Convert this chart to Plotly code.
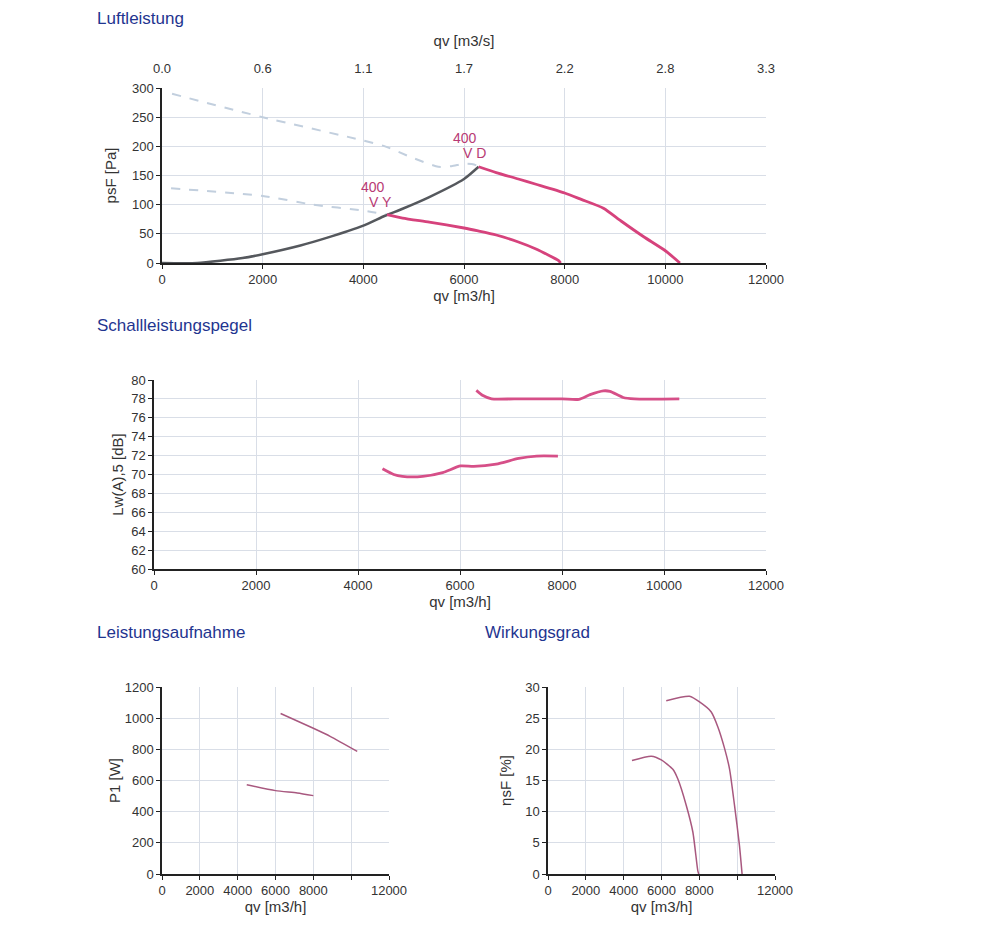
import plotly.graph_objects as go

# ---------------- data ----------------
# Luftleistung (qv [m3/h], psF [Pa])
sys_q = [0, 700, 1600, 2000, 2750, 3270, 4000, 4430, 4780, 5310, 6000, 6290]
sys_p = [0, 0, 8.5, 15, 30, 43, 64, 81, 93, 113, 144, 165]

vd_q = [6290, 6640, 7080, 7430, 8000, 8330, 8770, 9120, 9570, 10000, 10290]
vd_p = [165, 155, 144, 135, 120, 109, 94, 72, 45, 21, 0]

vy_q = [4470, 4780, 5310, 6000, 6280, 6640, 7080, 7430, 7880, 7920]
vy_p = [83, 77, 70, 60, 55, 48, 36, 24, 4, 0]

vd_ext_q = [200, 2000, 4000, 4430, 4960, 5490, 5750, 6000, 6200, 6290]
vd_ext_p = [290, 250, 210, 200, 181, 165, 166, 170, 169, 165]

vy_ext_q = [180, 2000, 3000, 4000, 4470]
vy_ext_p = [128, 115, 100, 90, 83]

# Schallleistungspegel (Lw(A),5 [dB])
lw_vd_q = [6320, 6450, 6620, 7060, 8000, 8330, 8550, 8810, 8940, 9200, 9420, 10300]
lw_vd_l = [78.9, 78.35, 78.0, 78.0, 78.0, 77.95, 78.45, 78.85, 78.8, 78.15, 78.0, 78.0]
lw_vy_q = [4480, 4700, 4870, 5270, 5660, 6010, 6270, 6710, 7150, 7500, 7920]
lw_vy_l = [70.6, 70.0, 69.8, 69.8, 70.2, 70.9, 70.85, 71.1, 71.7, 71.95, 71.95]

# Leistungsaufnahme (P1 [W])
p1_vd_q = [6270, 8000, 8910, 10320]
p1_vd_p = [1030, 935, 882, 787]
p1_vy_q = [4480, 6000, 7150, 8000]
p1_vy_p = [573, 535, 520, 503]

# Wirkungsgrad (etasF [%])
eta_vd_q = [6250, 7480, 8010, 8630, 8980, 9330, 9600, 9860, 10120, 10260]
eta_vd_e = [27.8, 28.5, 27.6, 26.0, 23.6, 20.2, 16.8, 11.0, 4.6, 0]
eta_vy_q = [4440, 5460, 5990, 6600, 6870, 7310, 7660, 7920, 7970]
eta_vy_e = [18.2, 18.9, 18.3, 16.8, 15.2, 11.0, 6.7, 0.5, 0]

x_ticks = [0, 2000, 4000, 6000, 8000, 10000, 12000]
x_ticks_small_text = ["0", "2000", "4000", "6000", "8000", "", "12000"]
top_ticks_text = ["%.1f" % (v / 3600) for v in x_ticks]

# ---------------- styles ----------------
PINK = "#d6427c"
PINK2 = "#d64f88"
MAUVE = "#a8587f"
GRAY = "#55585d"
DASH = "#c2cfde"
GRID = "#d9dee7"
TXT = "#333333"
TITLE_C = "#1f3590"
FONT = "Liberation Sans, Arial"

fig = go.Figure()

def add(x, y, xa, ya, color, width, dash=None):
    fig.add_trace(go.Scatter(x=x, y=y, xaxis=xa, yaxis=ya, mode="lines",
                             line=dict(color=color, width=width, dash=dash,
                                       shape="spline", smoothing=0.6),
                             hoverinfo="x+y", showlegend=False))

# top chart
add(vd_ext_q, vd_ext_p, "x", "y", DASH, 2, "dash")
add(vy_ext_q, vy_ext_p, "x", "y", DASH, 2, "dash")
add(sys_q, sys_p, "x", "y", GRAY, 2.5)
add(vd_q, vd_p, "x", "y", PINK, 2.8)
add(vy_q, vy_p, "x", "y", PINK, 2.8)
# invisible trace for the top m3/s axis
fig.add_trace(go.Scatter(x=[0, 12000 / 3600], y=[0, 0], xaxis="x2", yaxis="y",
                         mode="lines", line=dict(width=0), opacity=0,
                         hoverinfo="skip", showlegend=False))
# middle
add(lw_vd_q, lw_vd_l, "x3", "y3", PINK2, 2.8)
add(lw_vy_q, lw_vy_l, "x3", "y3", PINK2, 2.8)
# bottom left
add(p1_vd_q, p1_vd_p, "x4", "y4", MAUVE, 1.5)
add(p1_vy_q, p1_vy_p, "x4", "y4", MAUVE, 1.5)
# bottom right
add(eta_vd_q, eta_vd_e, "x5", "y5", MAUVE, 1.5)
add(eta_vy_q, eta_vy_e, "x5", "y5", MAUVE, 1.5)

def xax(domain, anchor, ticktext, title="qv [m3/h]"):
    return dict(domain=domain, anchor=anchor, range=[0, 12000], tickvals=x_ticks,
                ticktext=ticktext, showgrid=True, gridcolor=GRID, gridwidth=1,
                zeroline=False, showline=True, linecolor="#222", linewidth=1.5,
                ticks="outside", ticklen=4, tickcolor="#222", automargin=False,
                tickfont=dict(family=FONT, size=13, color=TXT),
                title=dict(text=title, font=dict(family=FONT, size=15, color=TXT), standoff=3),
                fixedrange=True)

def yax(domain, anchor, rng, dtick, title="", standoff=8):
    return dict(domain=domain, anchor=anchor, range=rng, dtick=dtick, tick0=rng[0],
                showgrid=True, gridcolor=GRID, gridwidth=1,
                zeroline=False, showline=True, linecolor="#222", linewidth=1.5,
                ticks="outside", ticklen=4, tickcolor="#222", automargin=False,
                tickfont=dict(family=FONT, size=13, color=TXT),
                title=dict(text=title, font=dict(family=FONT, size=15, color=TXT), standoff=standoff),
                fixedrange=True)

H = 930.0
def yd(top, bottom):
    return [1 - bottom / H, 1 - top / H]

fig.update_layout(
    template="none",
    width=1000, height=930, margin=dict(l=0, r=0, t=0, b=0, pad=0),
    paper_bgcolor="white", plot_bgcolor="white",
    xaxis=xax([0.162, 0.766], "y", [str(v) for v in x_ticks]),
    yaxis=yax(yd(88, 263), "x", [0, 300], 50, title="psF [Pa]", standoff=12),
    xaxis2=dict(overlaying="x", side="top", anchor="y", range=[0, 12000 / 3600],
                tickvals=[v / 3600 for v in x_ticks], ticktext=top_ticks_text,
                showgrid=False, zeroline=False, showline=False,
                ticks="outside", ticklen=9, tickcolor="rgba(0,0,0,0)", automargin=False,
                tickfont=dict(family=FONT, size=13, color=TXT),
                title=dict(text="qv [m3/s]", font=dict(family=FONT, size=15, color=TXT), standoff=10),
                fixedrange=True),
    xaxis3=xax([0.154, 0.766], "y3", [str(v) for v in x_ticks]),
    yaxis3=yax(yd(380, 569), "x3", [60, 80], 2, title="Lw(A),5 [dB]", standoff=4),
    xaxis4=xax([0.162, 0.389], "y4", x_ticks_small_text),
    yaxis4=yax(yd(687, 874), "x4", [0, 1200], 200, title="P1 [W]", standoff=0),
    xaxis5=xax([0.548, 0.775], "y5", x_ticks_small_text),
    yaxis5=yax(yd(687, 874), "x5", [0, 30], 5, title="ηsF [%]", standoff=10),
)

def title(text, x, y):
    fig.add_annotation(text=text, xref="paper", yref="paper", x=x / 1000, y=1 - y / H,
                       xanchor="left", yanchor="middle", showarrow=False,
                       font=dict(family=FONT, size=17, color=TITLE_C))

title("Luftleistung", 95, 18)
title("Schallleistungspegel", 95, 325)
title("Leistungsaufnahme", 95, 632)
title("Wirkungsgrad", 483, 632)

LBL = "#b83a74"
def lbl(text, x, y):
    fig.add_annotation(text=text, xref="x", yref="y", x=x, y=y, showarrow=False,
                       font=dict(family=FONT, size=14, color=LBL))

lbl("400", 6020, 214)
lbl("V D", 6200, 189)
lbl("400", 4200, 131)
lbl("V Y", 4350, 105)

fig.write_html("out.html")
